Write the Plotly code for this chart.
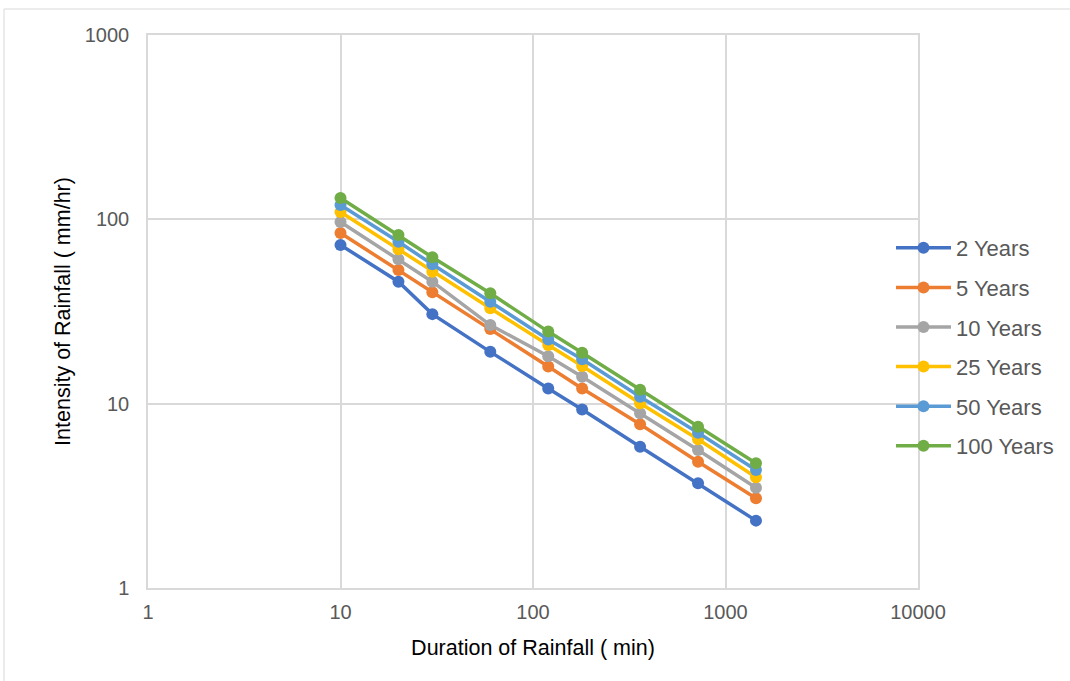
import plotly.graph_objects as go

durations = [10, 20, 30, 60, 120, 180, 360, 720, 1440]
series_names = ["2 Years", "5 Years", "10 Years", "25 Years", "50 Years", "100 Years"]
y_2 = [72.6, 45.9, 30.6, 19.1, 12.1, 9.31, 5.84, 3.70, 2.32]
y_5 = [84.3, 53.1, 40.2, 25.4, 15.9, 12.1, 7.73, 4.84, 3.07]
y_10 = [96.8, 60.7, 45.9, 26.7, 18.1, 14.0, 8.87, 5.61, 3.50]
y_25 = [109.6, 68.8, 52.0, 32.9, 20.8, 16.0, 10.05, 6.41, 3.99]
y_50 = [119.6, 75.6, 57.0, 35.7, 22.3, 17.4, 10.9, 6.96, 4.37]
y_100 = [130.6, 82.2, 62.2, 39.7, 24.6, 18.9, 11.9, 7.50, 4.75]
series_values = [y_2, y_5, y_10, y_25, y_50, y_100]
colors = ["#4472C4", "#ED7D31", "#A5A5A5", "#FFC000", "#5B9BD5", "#70AD47"]
x_ticks = [1, 10, 100, 1000, 10000]
y_ticks = [1, 10, 100, 1000]

fig = go.Figure()
for i, (name, vals, col) in enumerate(zip(series_names, series_values, colors)):
    fig.add_trace(go.Scatter(
        x=durations, y=vals, name=name, mode="lines+markers",
        line=dict(color=col, width=3.5),
        marker=dict(color=col, size=12),
        legendgroup=f"g{i}",
    ))

L, R, T, B = 148, 918, 35, 588
W, H = 1070, 681
pw, ph = R - L, B - T

font_family = "Liberation Sans, Arial, sans-serif"
fig.update_layout(
    width=W, height=H,
    margin=dict(l=L, r=W - R, t=T, b=H - B, autoexpand=False),
    paper_bgcolor="white", plot_bgcolor="white",
    font=dict(family=font_family, color="#595959", size=20),
    showlegend=True,
    legend=dict(
        x=(891 - L) / pw, xanchor="left", y=(B - 227) / ph, yanchor="top",
        font=dict(size=22, color="#595959"),
        itemwidth=55, tracegroupgap=8,
        bgcolor="rgba(0,0,0,0)",
    ),
    xaxis=dict(
        type="log", range=[0, 4], tickvals=x_ticks,
        ticktext=[str(v) for v in x_ticks],
        showgrid=True, gridcolor="#D9D9D9", gridwidth=1.5,
        showline=True, linecolor="#D9D9D9", linewidth=1.5, mirror=True,
        ticks="", zeroline=False, ticklabelstandoff=5,
        tickfont=dict(size=20, color="#595959"),
        title=dict(text="Duration of Rainfall ( min)", font=dict(size=21.5, color="#000000"), standoff=18),
    ),
    yaxis=dict(
        type="log", range=[0, 3], tickvals=y_ticks,
        ticktext=[str(v) for v in y_ticks],
        showgrid=True, gridcolor="#D9D9D9", gridwidth=1.5,
        showline=True, linecolor="#D9D9D9", linewidth=1.5, mirror=True,
        ticks="", zeroline=False, ticklabelstandoff=13,
        tickfont=dict(size=20, color="#595959"),
        title=dict(text="Intensity of Rainfall ( mm/hr)", font=dict(size=21.5, color="#000000"), standoff=8),
    ),
    shapes=[dict(
        type="rect", xref="paper", yref="paper",
        x0=(4 - L) / pw, x1=(1100 - L) / pw,
        y0=(B - 720) / ph, y1=(B - 9) / ph,
        line=dict(color="#D9D9D9", width=1), fillcolor="rgba(0,0,0,0)", layer="below",
    )],
)

fig.write_html("out.html", post_script="document.body.style.margin='0';",
               config={"displayModeBar": False})
